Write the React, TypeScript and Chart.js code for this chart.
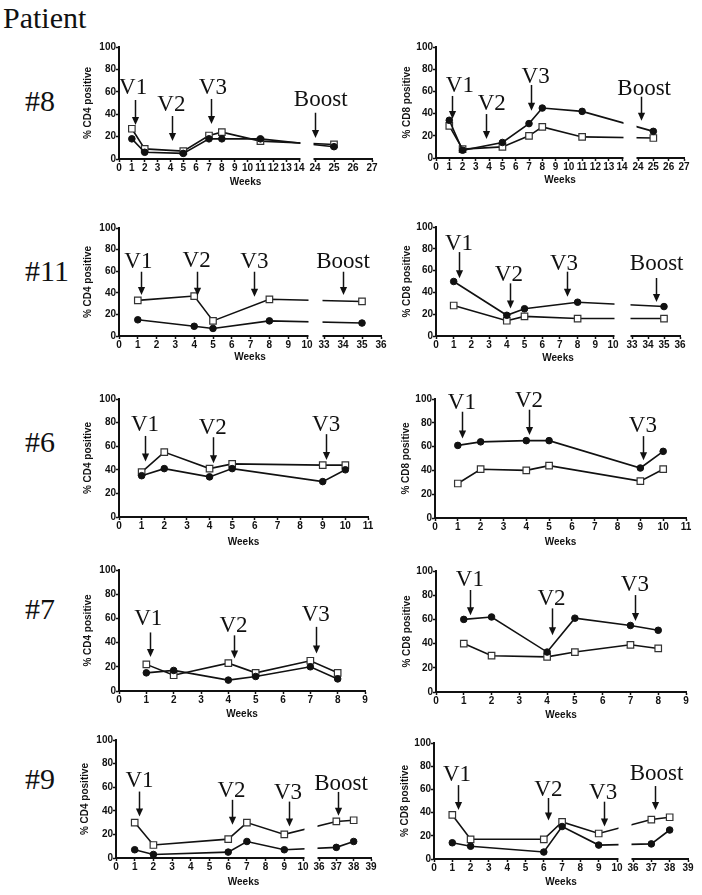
import React, { useEffect, useRef } from 'react';
import { Chart, registerables, LinearScale } from 'chart.js';

// ---------------- data ----------------
const p8Weeks = [1, 2, 5, 7, 8, 11, 25];
const p8Cd4Open = [27, 9, 7, 21, 24, 16, 13];
const p8Cd4Filled = [18, 6, 5, 18, 18, 18, 11];
const p8Cd8Open = [29, 8, 10, 20, 28, 19, 18];
const p8Cd8Filled = [34, 7, 14, 31, 45, 42, 24];

const p11Weeks = [1, 4, 5, 8, 35];
const p11Cd4Open = [33, 37, 14, 34, 32];
const p11Cd4Filled = [15, 9, 7, 14, 12];
const p11Cd8Open = [28, 14, 18, 16, 16];
const p11Cd8Filled = [50, 19, 25, 31, 27];

const p6Weeks = [1, 2, 4, 5, 9, 10];
const p6Cd4Open = [38, 55, 41, 45, 44, 44];
const p6Cd4Filled = [35, 41, 34, 41, 30, 40];
const p6Cd8Open = [29, 41, 40, 44, 31, 41];
const p6Cd8Filled = [61, 64, 65, 65, 42, 56];

const p7Weeks = [1, 2, 4, 5, 7, 8];
const p7Cd4Open = [22, 13, 23, 15, 25, 15];
const p7Cd4Filled = [15, 17, 9, 12, 20, 10];
const p7Cd8Open = [40, 30, 29, 33, 39, 36];
const p7Cd8Filled = [60, 62, 33, 61, 55, 51];

const p9Weeks = [1, 2, 6, 7, 9, 37, 38];
const p9Cd4Open = [30, 11, 16, 30, 20, 31, 32];
const p9Cd4Filled = [7, 3, 5, 14, 7, 9, 14];
const p9Cd8Open = [38, 17, 17, 32, 22, 34, 36];
const p9Cd8Filled = [14, 11, 6, 28, 12, 13, 25];

const yTicks = [0, 20, 40, 60, 80, 100];

// week ranges of the (broken) x axes
const p8Axis = [[0, 14], [24, 27]];
const p11Axis = [[0, 10], [33, 36]];
const p6Axis = [[0, 11]];
const p7Axis = [[0, 9]];
const p9Axis = [[0, 10], [36, 39]];

// vaccination markers: label, week of arrow, arrow top / tip (%), label week, label baseline (%)
type Mark = { t: string; x: number; top: number; tip: number; lx: number; ly: number };
const p8Cd4Marks: Mark[] = [
  { t: 'V1', x: 1.24, top: 52.7, tip: 30.4, lx: 1.1, ly: 58 },
  { t: 'V2', x: 4.1, top: 38.4, tip: 16.1, lx: 4.07, ly: 43.1 },
  { t: 'V3', x: 7.13, top: 53.6, tip: 31.2, lx: 7.3, ly: 58 },
  { t: 'Boost', x: 24, top: 41.3, tip: 18.7, lx: 24.3, ly: 47.3 },
];
const p8Cd8Marks: Mark[] = [
  { t: 'V1', x: 1.2, top: 55.9, tip: 35.1, lx: 1.8, ly: 59.5 },
  { t: 'V2', x: 3.74, top: 39.6, tip: 17.1, lx: 4.2, ly: 43.2 },
  { t: 'V3', x: 7.15, top: 65.8, tip: 42.6, lx: 7.5, ly: 67.8 },
  { t: 'Boost', x: 24.18, top: 55.2, tip: 33.6, lx: 24.4, ly: 56.8 },
];
const p11Cd4Marks: Mark[] = [
  { t: 'V1', x: 1.15, top: 59.5, tip: 38, lx: 1.03, ly: 62.7 },
  { t: 'V2', x: 4.16, top: 59.5, tip: 37.3, lx: 4.13, ly: 63.5 },
  { t: 'V3', x: 7.2, top: 59.5, tip: 36.4, lx: 7.2, ly: 62.7 },
  { t: 'Boost', x: 34.0, top: 59.5, tip: 38, lx: 34.0, ly: 62.7 },
];
const p11Cd8Marks: Mark[] = [
  { t: 'V1', x: 1.28, top: 77, tip: 53, lx: 1.3, ly: 79 },
  { t: 'V2', x: 4.16, top: 48.3, tip: 25.3, lx: 4.12, ly: 50.5 },
  { t: 'V3', x: 7.38, top: 59, tip: 36, lx: 7.23, ly: 61 },
  { t: 'Boost', x: 34.48, top: 53.2, tip: 31.1, lx: 34.54, ly: 61 },
];
const p6Cd4Marks: Mark[] = [
  { t: 'V1', x: 1.15, top: 68.7, tip: 47, lx: 1.15, ly: 73 },
  { t: 'V2', x: 4.17, top: 67.6, tip: 45.6, lx: 4.14, ly: 70.5 },
  { t: 'V3', x: 9.16, top: 70.2, tip: 48.4, lx: 9.15, ly: 73 },
];
const p6Cd8Marks: Mark[] = [
  { t: 'V1', x: 1.18, top: 89.3, tip: 66.9, lx: 1.18, ly: 91.5 },
  { t: 'V2', x: 4.11, top: 91, tip: 69.7, lx: 4.12, ly: 93 },
  { t: 'V3', x: 9.13, top: 68.8, tip: 48.6, lx: 9.11, ly: 72.5 },
];
const p7Cd4Marks: Mark[] = [
  { t: 'V1', x: 1.12, top: 48.4, tip: 28.2, lx: 1.07, ly: 54.4 },
  { t: 'V2', x: 4.21, top: 46, tip: 26.8, lx: 4.19, ly: 48.4 },
  { t: 'V3', x: 7.22, top: 53, tip: 31, lx: 7.2, ly: 57.7 },
];
const p7Cd8Marks: Mark[] = [
  { t: 'V1', x: 1.22, top: 84.3, tip: 63.5, lx: 1.22, ly: 87.8 },
  { t: 'V2', x: 4.16, top: 69.1, tip: 47, lx: 4.16, ly: 71.8 },
  { t: 'V3', x: 7.16, top: 80.1, tip: 58.6, lx: 7.16, ly: 83.4 },
];
const p9Cd4Marks: Mark[] = [
  { t: 'V1', x: 1.23, top: 56.3, tip: 35.2, lx: 1.26, ly: 60 },
  { t: 'V2', x: 6.18, top: 49.3, tip: 28.1, lx: 6.18, ly: 52.1 },
  { t: 'V3', x: 9.25, top: 47.8, tip: 26.7, lx: 9.2, ly: 49.9 },
  { t: 'Boost', x: 37.12, top: 56, tip: 35.8, lx: 37.27, ly: 57.7 },
];
const p9Cd8Marks: Mark[] = [
  { t: 'V1', x: 1.33, top: 63.7, tip: 42.3, lx: 1.26, ly: 67.4 },
  { t: 'V2', x: 6.25, top: 52.6, tip: 33.1, lx: 6.25, ly: 54.3 },
  { t: 'V3', x: 9.29, top: 49.4, tip: 28, lx: 9.24, ly: 51.5 },
  { t: 'Boost', x: 37.22, top: 62.9, tip: 42.3, lx: 37.28, ly: 68 },
];

const patientLabels = ['#8', '#11', '#6', '#7', '#9'];

// ---------------- layout ----------------
const YW = 40; // y axis box width
const PT = 16; // top padding
const PR = 10; // right padding
const SERIF = '"Liberation Serif", "Times New Roman", serif';
const SANS = '"Liberation Sans", Arial, sans-serif';
const INK = '#111';

type Layout = { l: number; t: number; b: number; segW: number[]; gap: number; weeksY: number; titleOff: number };
type Panel = {
  weeks: number[]; open: number[]; filled: number[]; axis: number[][]; marks: Mark[]; yTitle: string; lay: Layout;
};

const PANELS: Panel[] = [
  { weeks: p8Weeks, open: p8Cd4Open, filled: p8Cd4Filled, axis: p8Axis, marks: p8Cd4Marks, yTitle: '% CD4 positive',
    lay: { l: 119, t: 47, b: 159, segW: [180, 57], gap: 16, weeksY: 182, titleOff: 30.5 } },
  { weeks: p8Weeks, open: p8Cd8Open, filled: p8Cd8Filled, axis: p8Axis, marks: p8Cd8Marks, yTitle: '% CD8 positive',
    lay: { l: 436, t: 47, b: 158, segW: [186, 46], gap: 16, weeksY: 180, titleOff: 28.5 } },
  { weeks: p11Weeks, open: p11Cd4Open, filled: p11Cd4Filled, axis: p11Axis, marks: p11Cd4Marks, yTitle: '% CD4 positive',
    lay: { l: 119, t: 228, b: 336, segW: [188, 57], gap: 17, weeksY: 357, titleOff: 30.5 } },
  { weeks: p11Weeks, open: p11Cd8Open, filled: p11Cd8Filled, axis: p11Axis, marks: p11Cd8Marks, yTitle: '% CD8 positive',
    lay: { l: 436, t: 227, b: 336, segW: [177, 48], gap: 19, weeksY: 358, titleOff: 28.5 } },
  { weeks: p6Weeks, open: p6Cd4Open, filled: p6Cd4Filled, axis: p6Axis, marks: p6Cd4Marks, yTitle: '% CD4 positive',
    lay: { l: 119, t: 399, b: 517, segW: [249], gap: 0, weeksY: 542, titleOff: 30.5 } },
  { weeks: p6Weeks, open: p6Cd8Open, filled: p6Cd8Filled, axis: p6Axis, marks: p6Cd8Marks, yTitle: '% CD8 positive',
    lay: { l: 435, t: 399, b: 518, segW: [251], gap: 0, weeksY: 542, titleOff: 28.5 } },
  { weeks: p7Weeks, open: p7Cd4Open, filled: p7Cd4Filled, axis: p7Axis, marks: p7Cd4Marks, yTitle: '% CD4 positive',
    lay: { l: 119, t: 570, b: 691, segW: [246], gap: 0, weeksY: 714, titleOff: 30.5 } },
  { weeks: p7Weeks, open: p7Cd8Open, filled: p7Cd8Filled, axis: p7Axis, marks: p7Cd8Marks, yTitle: '% CD8 positive',
    lay: { l: 436, t: 571, b: 692, segW: [250], gap: 0, weeksY: 715, titleOff: 28.5 } },
  { weeks: p9Weeks, open: p9Cd4Open, filled: p9Cd4Filled, axis: p9Axis, marks: p9Cd4Marks, yTitle: '% CD4 positive',
    lay: { l: 116, t: 740, b: 858, segW: [187, 52], gap: 16, weeksY: 882, titleOff: 30.8 } },
  { weeks: p9Weeks, open: p9Cd8Open, filled: p9Cd8Filled, axis: p9Axis, marks: p9Cd8Marks, yTitle: '% CD8 positive',
    lay: { l: 434, t: 743, b: 859, segW: [183, 55], gap: 16, weeksY: 882, titleOff: 28.5 } },
];

const patientLabelPos = [
  { x: 25, y: 111 }, { x: 25, y: 281 }, { x: 25, y: 452 }, { x: 25, y: 619 }, { x: 25, y: 789 },
];

// ---------------- broken x scale ----------------
type Seg = { min: number; max: number; size: number };
const axisMap = new WeakMap<HTMLCanvasElement, { segs: Seg[]; gap: number }>();

class BrokenLinearScale extends LinearScale {
  static id = 'brokenLinear';
  info() {
    return axisMap.get((this as any).chart.canvas)!;
  }
  buildTicks() {
    const ticks: any[] = [];
    for (const s of this.info().segs) for (let v = s.min; v <= s.max; v++) ticks.push({ value: v });
    return ticks;
  }
  total() {
    const { segs, gap } = this.info();
    return segs.reduce((a, s) => a + s.size, 0) + gap * (segs.length - 1);
  }
  getPixelForValue(value: number) {
    const { segs, gap } = this.info();
    const k = (this as any).width / this.total();
    const left = (this as any).left;
    let off = 0;
    for (let i = 0; i < segs.length; i++) {
      const s = segs[i];
      if (i > 0 && value < s.min) {
        const p = segs[i - 1];
        return left + (off - gap + ((value - p.max) / (s.min - p.max)) * gap) * k;
      }
      if (value <= s.max || i === segs.length - 1) {
        return left + (off + ((value - s.min) / (s.max - s.min)) * s.size) * k;
      }
      off += s.size + gap;
    }
    return left;
  }
  getValueForPixel(pixel: number) {
    const { segs, gap } = this.info();
    const k = (this as any).width / this.total();
    const rel = (pixel - (this as any).left) / k;
    let off = 0;
    for (let i = 0; i < segs.length; i++) {
      const s = segs[i];
      if (rel <= off + s.size || i === segs.length - 1) return s.min + ((rel - off) / s.size) * (s.max - s.min);
      off += s.size + gap;
    }
    return 0;
  }
}

Chart.register(...registerables, BrokenLinearScale as any);

const tickFont = { family: SANS, size: 10, weight: 'bold' as const };

function marksPlugin(marks: Mark[]) {
  return {
    id: 'vaccMarks',
    afterDatasetsDraw(chart: any) {
      const ctx: CanvasRenderingContext2D = chart.ctx;
      const xs = chart.scales.x;
      const ys = chart.scales.y;
      const info = axisMap.get(chart.canvas)!;
      const area = chart.chartArea;
      ctx.save();
      // axis breaks
      ctx.fillStyle = '#fff';
      for (let i = 1; i < info.segs.length; i++) {
        const x1 = xs.getPixelForValue(info.segs[i - 1].max) + 1.5;
        const x2 = xs.getPixelForValue(info.segs[i].min) - 1.5;
        ctx.fillRect(x1, area.top - 4, x2 - x1, area.bottom - area.top + 6);
      }
      // arrows + labels
      ctx.strokeStyle = INK;
      ctx.fillStyle = INK;
      ctx.lineWidth = 1.5;
      for (const m of marks) {
        const x = Math.round(xs.getPixelForValue(m.x)) + 0.5;
        const y1 = ys.getPixelForValue(m.top);
        const y2 = ys.getPixelForValue(m.tip);
        const head = 8;
        ctx.beginPath();
        ctx.moveTo(x, y1);
        ctx.lineTo(x, y2 - head + 1);
        ctx.stroke();
        ctx.beginPath();
        ctx.moveTo(x - 3.6, y2 - head);
        ctx.lineTo(x + 3.6, y2 - head);
        ctx.lineTo(x, y2);
        ctx.closePath();
        ctx.fill();
        ctx.font = `23px ${SERIF}`;
        ctx.textAlign = 'center';
        ctx.textBaseline = 'alphabetic';
        ctx.fillText(m.t, xs.getPixelForValue(m.lx), ys.getPixelForValue(m.ly));
      }
      ctx.restore();
    },
  };
}

function geometry(p: Panel) {
  const L = p.lay;
  const plotW = L.segW.reduce((a, b) => a + b, 0) + L.gap * (L.segW.length - 1);
  const XH = L.weeksY + 10 - L.b;
  const W = Math.round(YW + plotW + PR);
  const H = Math.round(PT + (L.b - L.t) + XH);
  return { plotW, XH, W, H, left: L.l - YW, top: L.t - PT };
}

function PanelChart({ p }: { p: Panel }) {
  const ref = useRef<HTMLCanvasElement>(null);
  const g = geometry(p);
  useEffect(() => {
    const canvas = ref.current!;
    const L = p.lay;
    const segs = p.axis.map((r, i) => ({ min: r[0], max: r[1], size: L.segW[i] }));
    axisMap.set(canvas, { segs, gap: L.gap });
    const chart = new Chart(canvas, {
      type: 'line',
      data: {
        datasets: [
          {
            data: p.weeks.map((w, i) => ({ x: w, y: p.filled[i] })),
            borderColor: INK,
            borderWidth: 1.6,
            tension: 0,
            fill: false,
            pointStyle: 'circle',
            pointRadius: 3.3,
            pointBackgroundColor: INK,
            pointBorderColor: INK,
            pointBorderWidth: 1,
          },
          {
            data: p.weeks.map((w, i) => ({ x: w, y: p.open[i] })),
            borderColor: INK,
            borderWidth: 1.6,
            tension: 0,
            fill: false,
            pointStyle: 'rect',
            pointRadius: 4.6,
            pointBackgroundColor: '#fff',
            pointBorderColor: '#333',
            pointBorderWidth: 1.2,
          },
        ],
      } as any,
      options: {
        responsive: false,
        animation: false,
        events: [],
        layout: { padding: { left: 0, top: PT, right: PR, bottom: 0 } },
        plugins: { legend: { display: false }, tooltip: { enabled: false } },
        scales: {
          x: {
            type: 'brokenLinear' as any,
            position: 'bottom',
            min: segs[0].min,
            max: segs[segs.length - 1].max,
            afterFit: (s: any) => { s.height = g.XH; },
            grid: { display: true, drawOnChartArea: false, drawTicks: true, tickLength: 3, color: INK, tickWidth: 1.5 },
            border: { display: true, color: INK, width: 2 },
            ticks: {
              autoSkip: false, source: 'data', maxRotation: 0, minRotation: 0, padding: 0,
              color: INK, font: tickFont, callback: (v: any) => String(v),
            },
            title: { display: true, text: 'Weeks', color: INK, font: tickFont, padding: { top: 0, bottom: 4 } },
          } as any,
          y: {
            type: 'linear',
            min: 0,
            max: 100,
            afterFit: (s: any) => { s.width = YW; },
            afterBuildTicks: (s: any) => { s.ticks = yTicks.map((v) => ({ value: v })); },
            grid: { display: true, drawOnChartArea: false, drawTicks: true, tickLength: 3, color: INK, tickWidth: 1.5 },
            border: { display: true, color: INK, width: 2 },
            ticks: { padding: 0, color: INK, font: tickFont, callback: (v: any) => String(v) },
            title: { display: true, text: p.yTitle, color: INK, font: tickFont, padding: { top: 34 - L.titleOff, bottom: 0 } },
          } as any,
        },
      },
      plugins: [marksPlugin(p.marks)],
    });
    return () => chart.destroy();
  }, []);
  return (
    <canvas
      ref={ref}
      width={g.W}
      height={g.H}
      style={{ position: 'absolute', left: g.left, top: g.top, width: g.W, height: g.H }}
    />
  );
}

export default function App() {
  return (
    <div style={{ position: 'absolute', left: 0, top: 0, width: 702, height: 895, background: '#fff', overflow: 'hidden' }}>
      <svg width={702} height={895} style={{ position: 'absolute', left: 0, top: 0 }}>
        <text x={3} y={28} fontFamily={SERIF} fontSize={30} fill={INK}>Patient</text>
        {patientLabels.map((t, i) => (
          <text key={t} x={patientLabelPos[i].x} y={patientLabelPos[i].y} fontFamily={SERIF} fontSize={30} fill={INK}>{t}</text>
        ))}
      </svg>
      {PANELS.map((p, i) => (
        <PanelChart key={i} p={p} />
      ))}
    </div>
  );
}
